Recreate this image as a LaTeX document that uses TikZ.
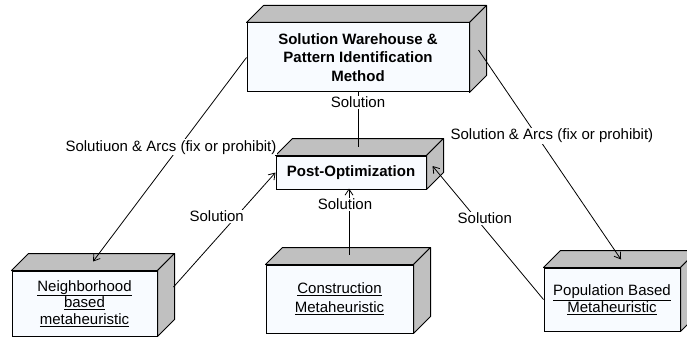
\documentclass[tikz,border=0pt]{standalone}
\usepackage{fontspec}
\setmainfont{Liberation Sans}
\usetikzlibrary{arrows.meta}

\definecolor{facefill}{HTML}{F8FBFF}
\definecolor{sidefill}{HTML}{C0C0C0}

% gray top and side faces behind a block node
\newcommand{\blockdepth}[1]{%
  \filldraw[side] (#1.north west) -- ++(17,-17) -- ([shift={(17,-17)}]#1.north east) -- (#1.north east) -- cycle;
  \filldraw[side] (#1.north east) -- ++(17,-17) -- ([shift={(17,-17)}]#1.south east) -- (#1.south east) -- cycle;
}

\begin{document}
\begin{tikzpicture}
        [x=1pt, y=-1pt,
        block/.style={draw, fill=facefill, line width=1pt, inner sep=0pt, align=center},
        side/.style={fill=sidefill, draw=black, line width=1pt, line join=round},
        flow/.style={line width=0.8pt, black, -{Straight Barb[length=6pt, width=8pt]}},
        link/.style={line width=0.8pt, black},
        lbl/.style={fill=white, inner sep=1pt, font=\fontsize{15}{18}\selectfont}]

        \useasboundingbox (0,0) rectangle (687,342);
        \clip (0,0) rectangle (687,342);

        % Blocks (front faces)
        \node[block, minimum width=222pt, minimum height=69pt, font=\fontsize{15}{18.3}\selectfont\bfseries]
            (ware) at (358,57.5) {Solution Warehouse \&\\Pattern Identification\\Method};
        \node[block, minimum width=150pt, minimum height=33pt, font=\fontsize{15}{18}\selectfont\bfseries]
            (post) at (351,172.5) {Post-Optimization};
        \node[block, minimum width=145pt, minimum height=65pt, font=\fontsize{15}{16.7}\selectfont]
            (nbr) at (84.5,303.5) {\underline{Neighborhood}\\\underline{based}\\\underline{metaheuristic}};
        \node[block, minimum width=147pt, minimum height=68pt, font=\fontsize{15}{19}\selectfont]
            (cst) at (339.5,299) {\underline{Construction}\\\underline{Metaheuristic}};
        \node[block, minimum width=136pt, minimum height=63pt, font=\fontsize{15}{16.7}\selectfont]
            (pop) at (612,299.5) {\underline{Population Based}\\\underline{Metaheuristic}};

        % Depth of the blocks
        \blockdepth{ware}
        \blockdepth{post}
        \blockdepth{nbr}
        \blockdepth{cst}
        \blockdepth{pop}

        % Connections
        \draw[flow] (ware.west) -- ([shift={(8.5,-9)}]nbr.north)
            node[lbl, pos=0.44, xshift=-8pt] {Solutiuon \& Arcs (fix or prohibit)};
        \draw[flow] (ware.east) ++(9,-7.5) -- ([shift={(9,-8)}]pop.north)
            node[lbl, pos=0.41, xshift=15pt] {Solution \& Arcs (fix or prohibit)};
        \draw[flow] ([shift={(16,-16.5)}]nbr.east) -- (post.west)
            node[lbl, pos=0.62, xshift=-20pt] {Solution};
        \draw[flow] ([shift={(9.5,-10)}]cst.north) -- ++(0,-66)
            node[lbl, pos=0.76, xshift=-4pt] {Solution};
        \draw[flow] (pop.west) -- ([shift={(6,-6.5)}]post.east)
            node[lbl, pos=0.61, xshift=9pt] {Solution};
        \draw[link] ([shift={(7,-9)}]post.north) -- ++(0,-55)
            node[lbl, pos=0.8] {Solution};

    \end{tikzpicture}
\end{document}
